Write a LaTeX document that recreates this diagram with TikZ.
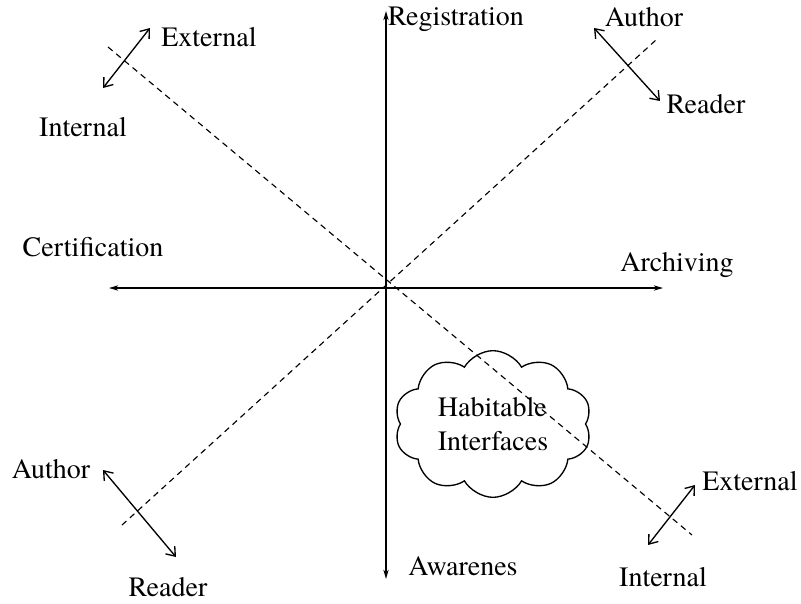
\documentclass[tikz,border=0pt]{standalone}
\usepackage{fontspec}
\newfontfamily\tms{texgyretermes-regular.otf}
\usetikzlibrary{arrows.meta,shapes.symbols}
\tikzset{
  lbl/.style={inner sep=1pt,font=\tms\fontsize{21}{23}\selectfont},
  ax/.style={{Stealth[length=7pt,width=4pt]}-{Stealth[length=7pt,width=4pt]},line width=1pt},
  dia/.style={dash pattern=on 4.5pt off 3.5pt,line width=0.85pt},
  ar/.style={{Straight Barb[length=6pt,width=9pt]}-{Straight Barb[length=6pt,width=9pt]},line width=1pt},
}

\begin{document}
\begin{tikzpicture}[x=0.75pt,y=-0.75pt]
  \useasboundingbox (0,0) rectangle (801,604);
  % axes
  \coordinate (top) at (386,11);
  \coordinate (bot) at (386,579);
  \coordinate (lft) at (109,288);
  \coordinate (rgt) at (663,288);
  \draw[ax] (top) -- (bot);
  \draw[ax] (lft) -- (rgt);
  % diagonals
  \coordinate (d1a) at (108,47);
  \coordinate (d1b) at (692,535);
  \coordinate (d2a) at (122,525);
  \coordinate (d2b) at (656,40);
  \draw[dia] (d1a) -- (d1b);
  \draw[dia] (d2a) -- (d2b);
  % axis labels
  \node[lbl] (reg) at (456,19) {Registration};
  \node[lbl] (aw)  at (463,566) {Awarenes};
  \node[lbl] (cert) at (93,247) {Certification};
  \node[lbl] (arch) at (677,265) {Archiving};
  % top left
  \node[lbl] (ext1) at (209,37) {External};
  \node[lbl] (int1) at (83,127) {Internal};
  \coordinate (a1s) at (103,88);
  \coordinate (a1e) at (150,28);
  \draw[ar] (a1s) -- (a1e);
  % top right
  \node[lbl] (aut1) at (644,17) {Author};
  \node[lbl] (rea1) at (706,104) {Reader};
  \coordinate (a2s) at (594,28);
  \coordinate (a2e) at (660,101);
  \draw[ar] (a2s) -- (a2e);
  % bottom left
  \node[lbl] (aut2) at (51,469) {Author};
  \node[lbl] (rea2) at (168,587) {Reader};
  \coordinate (a3s) at (103,470);
  \coordinate (a3e) at (176,557);
  \draw[ar] (a3s) -- (a3e);
  % bottom right
  \node[lbl] (ext2) at (750,481) {External};
  \node[lbl] (int2) at (663,577) {Internal};
  \coordinate (a4s) at (648,545);
  \coordinate (a4e) at (695,485);
  \draw[ar] (a4s) -- (a4e);
  % cloud
  \node[cloud,draw,line width=1pt,cloud puffs=10,cloud puff arc=120,aspect=1.35,
        minimum width=148pt,minimum height=110pt,inner sep=0pt,
        align=left,font=\tms\fontsize{21}{26}\selectfont] (hab) at (493,424) {Habitable\\Interfaces};
\end{tikzpicture}
\end{document}
